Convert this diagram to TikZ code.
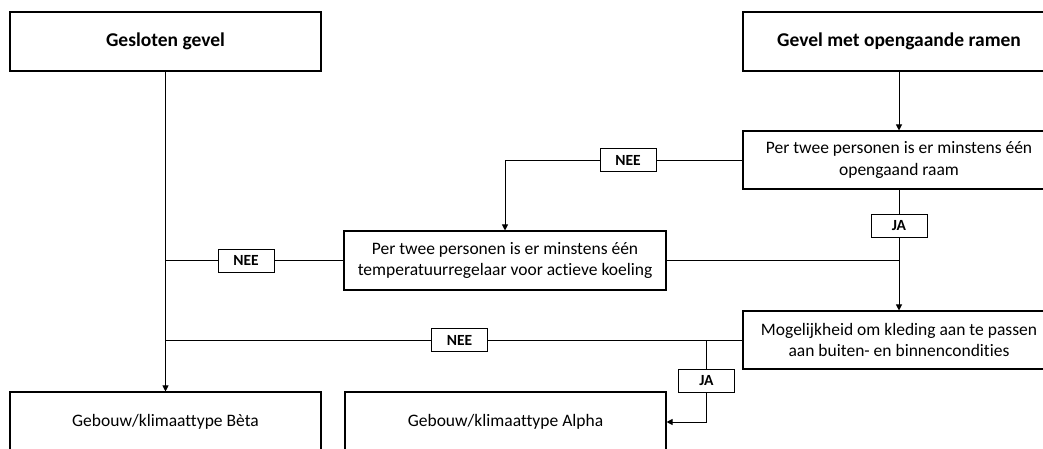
\documentclass[tikz,border=0pt]{standalone}
\usepackage{fontspec}
\setmainfont{Carlito}[Ligatures=NoCommon]
\usetikzlibrary{arrows.meta}
\begin{document}
\begin{tikzpicture}[x=1pt,y=-1pt,
  box/.style={draw, line width=1.1pt, inner sep=0pt, align=center, font=\fontsize{17.5}{21.5}\selectfont},
  bold/.style={font=\bfseries\fontsize{19.5}{23}\selectfont},
  lab/.style={draw, line width=1pt, fill=white, minimum width=56pt, minimum height=23pt, inner sep=0pt, font=\bfseries\fontsize{15.5}{17}\selectfont},
  conn/.style={line width=1pt},
  arr/.style={conn, -{Triangle[length=6pt,width=6pt]}}
]
\useasboundingbox (0,0) rectangle (1043,448);
\clip (0,0) rectangle (1043,448);
\fill[white] (0,0) rectangle (1043,448);

\node[box, bold, minimum width=311pt, minimum height=59pt] (A) at (165.5,41.5) {Gesloten gevel};
\node[box, bold, minimum width=312pt, minimum height=59pt] (B) at (899,41.5) {Gevel met opengaande ramen};
\node[box, minimum width=312pt, minimum height=58pt] (C) at (899,160) {Per twee personen is er minstens één\\opengaand raam};
\node[box, minimum width=322pt, minimum height=59pt] (D) at (505,260.5) {Per twee personen is er minstens één\\temperatuurregelaar voor actieve koeling};
\node[box, minimum width=312pt, minimum height=58pt] (E) at (899,340) {Mogelijkheid om kleding aan te passen\\aan buiten- en binnencondities};
\node[box, minimum width=311pt, minimum height=60pt] (Beta) at (165.5,422) {Gebouw/klimaattype Bèta};
\node[box, minimum width=321pt, minimum height=60pt] (Alpha) at (505.5,422) {Gebouw/klimaattype Alpha};

\node[lab] (n1) at (628,160) {NEE};
\node[lab] (n2) at (246,260.5) {NEE};
\node[lab] (n3) at (459.5,340) {NEE};
\node[lab] (j1) at (899,226) {JA};
\node[lab] (j2) at (706.5,380.5) {JA};

\coordinate (m1) at (A.south |- D.west);
\coordinate (m2) at (A.south |- E.west);
\coordinate (m3) at (C.south |- D.east);
\coordinate (m4) at (j2.north |- E.west);

\draw[arr] (A.south) -- (Beta.north);
\draw[arr] (B.south) -- (C.north);
\draw[conn] (C.west) -- (n1.east);
\draw[arr] (n1.west) -| (D.north);
\draw[conn] (C.south) -- (j1.north);
\draw[arr] (j1.south) -- (E.north);
\draw[conn] (D.east) -- (m3);
\draw[conn] (D.west) -- (n2.east);
\draw[conn] (n2.west) -- (m1);
\draw[conn] (E.west) -- (n3.east);
\draw[conn] (n3.west) -- (m2);
\draw[conn] (m4) -- (j2.north);
\draw[arr] (j2.south) |- (Alpha.east);
\end{tikzpicture}
\end{document}
